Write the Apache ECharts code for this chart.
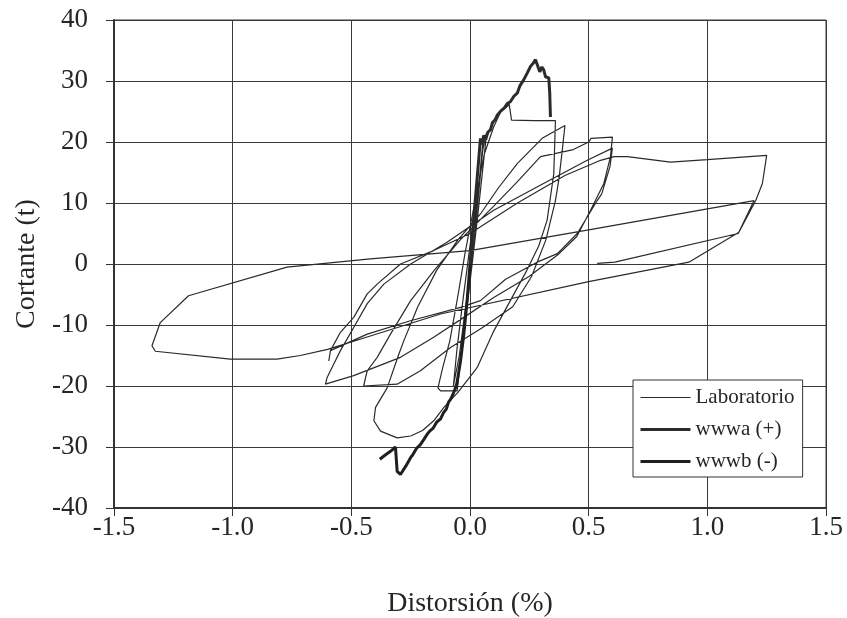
<!DOCTYPE html>
<html>
<head>
<meta charset="utf-8">
<script src="https://cdn.jsdelivr.net/npm/echarts@6/dist/echarts.min.js"></script>
<style>
html,body{margin:0;padding:0;background:#fff;}
#chart{width:847px;height:618px;}
</style>
</head>
<body>
<div id="chart"></div>
<script>
// Series names
var seriesNames = ['Laboratorio', 'wwwa (+)', 'wwwb (-)'];
// Axis titles
var xTitle = 'Distorsión (%)';
var yTitle = 'Cortante (t)';

// Laboratorio hysteresis path [distortion %, shear t]
var laboratorio = [
  [0,0],[0.02,7],[0.04,14],[0.055,20.3],[0.045,15],[0.02,5],[-0.015,-6],[-0.045,-15],[-0.07,-20],
  [-0.055,-14],[-0.03,-6],[0,3],[0.03,11],[0.055,19],[0.07,21.5],[0.055,16],[0.03,7],[0,-3],
  [-0.03,-12],[-0.054,-20.8],[-0.124,-20.8],[-0.135,-20.3],[-0.115,-17],[-0.085,-12.6],[-0.05,-5],
  [-0.02,2],[0.02,10],[0.06,18],[0.1,22.5],[0.13,25],[0.157,25.8],[0.165,26.2],[0.175,23.6],
  [0.27,23.5],[0.36,23.5],[0.353,14.8],[0.325,7.2],[0.29,3],[0.24,-1],[0.17,-6],[0.1,-11],
  [0.03,-17],[-0.05,-21],[-0.11,-23.5],[-0.153,-25.7],[-0.2,-27.3],[-0.25,-28.2],[-0.307,-28.5],
  [-0.377,-27.4],[-0.405,-25.7],[-0.398,-23.5],[-0.349,-20.3],[-0.3,-14.8],[-0.279,-12.6],
  [-0.22,-7],[-0.14,-1],[-0.05,4],[0.044,8.2],[0.12,12.5],[0.2,16.5],[0.304,20.6],[0.4,22.7],
  [0.389,18.7],[0.375,14],[0.36,10.4],[0.32,4],[0.26,-2],[0.18,-7],[0.05,-10.5],[-0.082,-13.7],
  [-0.209,-17.5],[-0.307,-19.7],[-0.448,-20],[-0.44,-18.6],[-0.433,-17.5],[-0.391,-15.3],
  [-0.335,-11.5],[-0.25,-6],[-0.15,-1],[-0.04,4],[0.1,9.5],[0.2,13.5],[0.297,17.6],[0.431,18.7],
  [0.5,20],[0.51,20.6],[0.6,20.8],[0.592,17.6],[0.564,13.2],[0.508,8.8],[0.45,4.5],[0.37,1.5],
  [0.25,-2],[0.1,-5.5],[-0.026,-8.75],[-0.153,-12],[-0.293,-15.3],[-0.49,-18.3],[-0.609,-19.7],
  [-0.602,-18.6],[-0.574,-16.4],[-0.546,-14.2],[-0.49,-10.4],[-0.433,-6.5],[-0.363,-3.3],
  [-0.25,0],[-0.1,3.5],[0.1,8.8],[0.3,13],[0.494,17],[0.6,19],[0.59,16],[0.555,11.5],
  [0.536,10.4],[0.452,5],[0.368,1.7],[0.283,0.3],[0.15,-2.5],[0.044,-6],[-0.04,-7.1],
  [-0.251,-9.3],[-0.433,-11.5],[-0.588,-14.2],[-0.595,-15.9],[-0.588,-14.2],[-0.546,-11.2],
  [-0.49,-8.75],[-0.433,-4.9],[-0.391,-3.3],[-0.293,0],[-0.153,2.2],[0,5],[0.2,10],[0.4,14.5],
  [0.55,17],[0.607,17.6],[0.663,17.6],[0.845,16.7],[1.0,17.1],[1.25,17.8],[1.232,13.2],
  [1.204,10.4],[1.133,5.2],[0.922,0.3],[0.5,-2.9],[-0.124,-8.2],[-0.42,-11.8],[-0.6,-14],
  [-0.715,-15],[-0.813,-15.6],[-1.01,-15.6],[-1.326,-14.3],[-1.34,-13.4],[-1.305,-9.6],
  [-1.186,-5.2],[-0.771,-0.5],[-0.42,0.85],[0,2.2],[0.5,5.6],[1.197,10.4],[1.13,5],
  [0.61,0.3],[0.536,0.1]
];

// wwwa (+) model curve
var wwwa = [
  [0,0],[0.016,7.7],[0.03,14],[0.044,20.6],[0.05,19.6],[0.058,21.1],[0.066,20.4],[0.075,21.6],
  [0.086,22],[0.095,23.2],[0.105,23.6],[0.115,24.4],[0.13,25.1],[0.145,25.6],[0.157,26.3],
  [0.17,26.6],[0.185,27.5],[0.199,28],[0.21,29.2],[0.225,30.1],[0.241,31.3],[0.255,32.4],
  [0.268,33],[0.276,33.5],[0.283,33.8],[0.294,31.5],[0.303,32.3],[0.311,31.8],[0.318,30.7],
  [0.332,30.5],[0.336,28],[0.339,24.1]
];

// wwwb (-) model curve
var wwwb = [
  [0,0],[-0.012,-6],[-0.026,-11.5],[-0.04,-15.9],[-0.055,-19.5],[-0.061,-20.3],[-0.07,-21.2],
  [-0.082,-22.2],[-0.09,-22.6],[-0.1,-23.8],[-0.112,-24.4],[-0.124,-25.4],[-0.14,-25.9],
  [-0.155,-26.9],[-0.17,-27.4],[-0.18,-27.9],[-0.195,-28.8],[-0.209,-29.6],[-0.225,-30.2],
  [-0.24,-31.2],[-0.251,-31.8],[-0.27,-33.1],[-0.293,-34.5],[-0.307,-34],[-0.314,-30],
  [-0.335,-30.7],[-0.36,-31.4],[-0.38,-32]
];

var chart = echarts.init(document.getElementById('chart'));
var serif = 'Liberation Serif, Times New Roman, serif';
var ink = '#262626';

chart.setOption({
  animation: false,
  backgroundColor: '#ffffff',
  grid: {left: 114, right: 21, top: 20, bottom: 110, containLabel: false, outerBoundsMode: 'none',
         show: true, borderColor: '#3a3a3a', borderWidth: 1},
  legend: {
    orient: 'vertical', left: 633, top: 380,
    itemWidth: 50, itemHeight: 14, itemGap: 11,
    padding: [7, 8, 5, 6],
    backgroundColor: '#ffffff', borderColor: '#333', borderWidth: 1,
    textStyle: {fontFamily: serif, fontSize: 21, color: ink},
    itemStyle: {opacity: 0},
    data: [
      {name: seriesNames[0], itemStyle: {opacity: 0}, lineStyle: {width: 1.2, color: '#2a2a2a'}},
      {name: seriesNames[1], itemStyle: {opacity: 0}, lineStyle: {width: 3, color: '#2b2b2b'}},
      {name: seriesNames[2], itemStyle: {opacity: 0}, lineStyle: {width: 3, color: '#1f1f1f'}}
    ]
  },
  xAxis: {
    type: 'value', min: -1.5, max: 1.5, interval: 0.5,
    name: xTitle, nameLocation: 'middle', nameGap: 82,
    nameTextStyle: {fontFamily: serif, fontSize: 28, color: ink},
    axisLine: {show: true, onZero: false, lineStyle: {color: '#333', width: 2}},
    axisTick: {show: true, inside: false, length: 8, lineStyle: {color: '#333'}},
    axisLabel: {fontFamily: serif, fontSize: 27, color: ink, margin: 6,
      formatter: function (v) { return v.toFixed(1); }},
    splitLine: {show: true, lineStyle: {color: '#3a3a3a', width: 1}}
  },
  yAxis: {
    type: 'value', min: -40, max: 40, interval: 10,
    name: yTitle, nameLocation: 'middle', nameGap: 72,
    nameTextStyle: {fontFamily: serif, fontSize: 28, color: ink},
    axisLine: {show: true, onZero: false, lineStyle: {color: '#333', width: 2}},
    axisTick: {show: true, inside: false, length: 8, lineStyle: {color: '#333'}},
    axisLabel: {fontFamily: serif, fontSize: 27, color: ink, margin: 26},
    splitLine: {show: true, lineStyle: {color: '#3a3a3a', width: 1}}
  },
  series: [
    {name: seriesNames[0], type: 'line', data: laboratorio, symbol: 'none', smooth: false,
     lineStyle: {color: '#2a2a2a', width: 1.2}, itemStyle: {color: '#2a2a2a'}, z: 2},
    {name: seriesNames[1], type: 'line', data: wwwa, symbol: 'none', smooth: false,
     lineStyle: {color: '#2b2b2b', width: 3}, itemStyle: {color: '#2b2b2b'}, z: 3},
    {name: seriesNames[2], type: 'line', data: wwwb, symbol: 'none', smooth: false,
     lineStyle: {color: '#1f1f1f', width: 3}, itemStyle: {color: '#1f1f1f'}, z: 3}
  ]
});
</script>
</body>
</html>
